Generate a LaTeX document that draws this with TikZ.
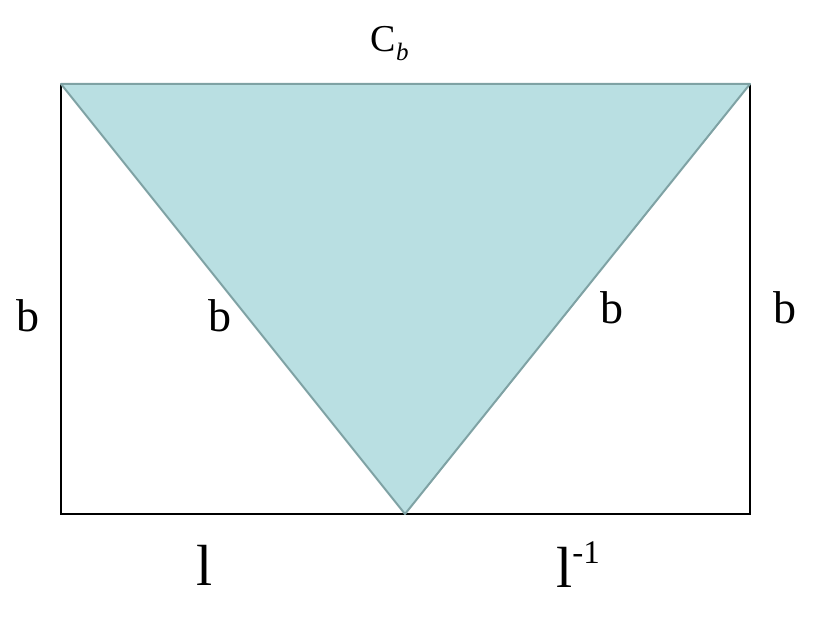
\documentclass[tikz,border=0pt]{standalone}
\usepackage{fontspec}
\setmainfont{Liberation Serif}
\definecolor{trifill}{HTML}{B9DFE2}
\definecolor{triedge}{HTML}{7FA2A4}
\begin{document}
\begin{tikzpicture}[x=1pt,y=-1pt,
  lbl/.style={anchor=base,inner sep=0pt,font=\fontsize{46}{50}\selectfont},
  big/.style={anchor=base,inner sep=0pt,font=\fontsize{58}{62}\selectfont}]
\useasboundingbox (0,0) rectangle (819,617);
\coordinate (tl) at (61,84);
\coordinate (tr) at (750,84);
\coordinate (bl) at (61,514);
\coordinate (br) at (750,514);
\coordinate (bm) at (405,514);
\draw[line width=2pt] (tl) -- (bl) -- (br) -- (tr);
\fill[trifill] (tl) -- (tr) -- (bm) -- cycle;
\draw[triedge,line width=2pt,line join=round] (tl) -- (tr) -- (bm) -- cycle;
\node[anchor=base,inner sep=0pt] (cb) at (390,52) {\fontsize{38}{40}\selectfont C\textsubscript{\fontsize{25}{27}\selectfont\itshape b}};
\node[lbl] (b1) at (28,332) {b};
\node[lbl] (b2) at (220,332) {b};
\node[lbl] (b3) at (612,324) {b};
\node[lbl] (b4) at (785,324) {b};
\node[big] (l1) at (205,585) {l};
\node[big] (l2) at (578,587) {l\raisebox{24pt}{\fontsize{33}{35}\selectfont -1}};
\end{tikzpicture}
\end{document}
